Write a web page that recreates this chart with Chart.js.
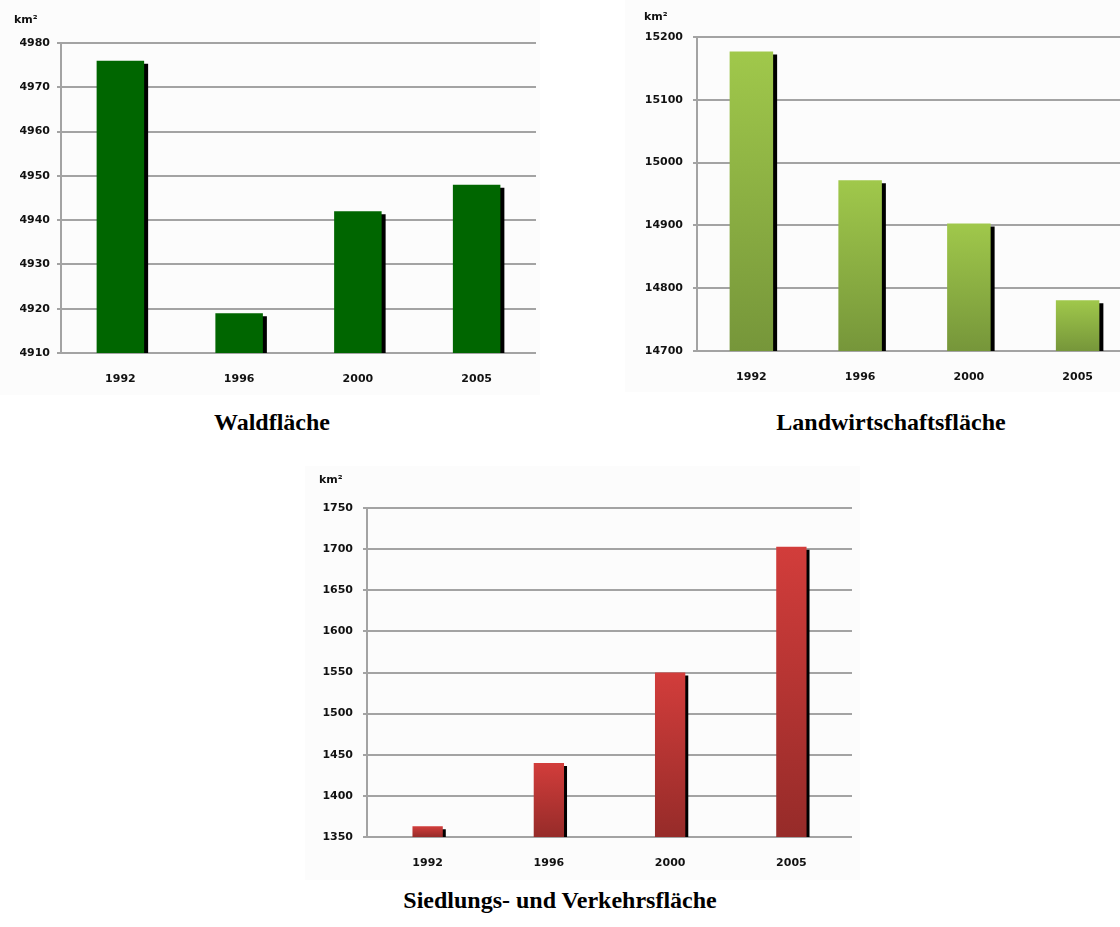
<!DOCTYPE html>
<html>
<head>
<meta charset="utf-8">
<script src="https://cdn.jsdelivr.net/npm/chart.js@4"></script>
<style>
  html, body { margin: 0; padding: 0; background: #fff; width: 1120px; height: 927px; overflow: hidden; position: relative; }
  canvas { position: absolute; background: #fcfcfc; }
  .unit { position: absolute; font: bold 11px "DejaVu Sans", sans-serif; color: #111; }
  .title { position: absolute; font: bold 24px "Liberation Serif", "Times New Roman", serif; color: #000; text-align: center; width: 500px; }
</style>
</head>
<body>
<canvas id="wald" width="540" height="395" style="left:0;top:0"></canvas>
<canvas id="land" width="515" height="392" style="left:625px;top:0"></canvas>
<canvas id="sied" width="555" height="414" style="left:305px;top:466px"></canvas>

<span class="unit" style="left:14px;top:13px">km²</span>
<span class="unit" style="left:644px;top:10px">km²</span>
<span class="unit" style="left:319px;top:473px">km²</span>

<div class="title" style="left:22px;top:409px">Waldfläche</div>
<div class="title" style="left:641px;top:409px">Landwirtschaftsfläche</div>
<div class="title" style="left:310px;top:887px">Siedlungs- und Verkehrsfläche</div>

<script>
// Jahre
const years = ['1992', '1996', '2000', '2005'];

// Werte in km²
const waldValues = [4976, 4919, 4942, 4948];
const landValues = [15177, 14972, 14903, 14781];
const siedValues = [1363, 1440, 1550, 1703];

// Achsenbeschriftungen (y)
const waldTicks = [4910, 4920, 4930, 4940, 4950, 4960, 4970, 4980];
const landTicks = [14700, 14800, 14900, 15000, 15100, 15200];
const siedTicks = [1350, 1400, 1450, 1500, 1550, 1600, 1650, 1700, 1750];

const gridColor = '#a3a3a3';

// Schatten rechts neben den Balken
const shadowPlugin = {
    id: 'barShadow',
    beforeDatasetsDraw(chart, args, opts) {
        const c = chart.ctx;
        c.save();
        c.shadowColor = '#000';
        c.shadowOffsetX = opts.dx || 4;
        c.shadowOffsetY = 3;
        c.shadowBlur = 0;
    },
    afterDatasetsDraw(chart) {
        chart.ctx.restore();
    }
};

// Verlauf von oben (hell) nach unten (dunkel) je Balken
function barGradient(top, bottom) {
    return function (ctx) {
        const chart = ctx.chart;
        const area = chart.chartArea;
        if (!area || ctx.type !== 'data') return top;
        const y = chart.scales.y.getPixelForValue(ctx.raw);
        const g = chart.ctx.createLinearGradient(0, y, 0, area.bottom);
        g.addColorStop(0, top);
        g.addColorStop(1, bottom);
        return g;
    };
}

function makeChart(id, values, ticks, color, o) {
    const ctx = document.getElementById(id).getContext('2d');
    return new Chart(ctx, {
        type: 'bar',
        data: {
            labels: years,
            datasets: [{
                data: values,
                backgroundColor: color,
                borderWidth: 0,
                barPercentage: o.barPct,
                categoryPercentage: 1
            }]
        },
        options: {
            responsive: false,
            devicePixelRatio: 1,
            animation: false,
            layout: { padding: { top: o.top, right: o.right, left: 0, bottom: 0 } },
            plugins: {
                legend: { display: false },
                tooltip: { enabled: false },
                barShadow: { dx: o.dx }
            },
            scales: {
                x: {
                    grid: { display: false, drawTicks: false },
                    border: { display: false },
                    ticks: {
                        padding: o.xPad,
                        color: '#111',
                        font: { family: 'DejaVu Sans', weight: 'bold', size: 11 }
                    },
                    afterFit: s => { s.height = o.xH; }
                },
                y: {
                    min: ticks[0],
                    max: ticks[ticks.length - 1],
                    grid: { color: gridColor, lineWidth: 2, tickLength: 4 },
                    border: { color: gridColor, width: 2 },
                    ticks: {
                        stepSize: ticks[1] - ticks[0],
                        padding: o.yPad,
                        color: '#111',
                        font: { family: 'DejaVu Sans', weight: 'bold', size: o.yFont },
                        callback: v => String(v)
                    },
                    afterFit: s => { s.width = o.yW; }
                }
            }
        },
        plugins: [shadowPlugin]
    });
}

makeChart('wald', waldValues, waldTicks, '#006600',
    { barPct: 0.4, top: 43, right: 4, xH: 42, xPad: 20, yW: 61, yPad: 7, yFont: 11, dx: 4 });

makeChart('land', landValues, landTicks, barGradient('#a0c84b', '#76963a'),
    { barPct: 0.4, top: 37, right: 8, xH: 41, xPad: 20, yW: 72, yPad: 10, yFont: 11, dx: 4 });

makeChart('sied', siedValues, siedTicks, barGradient('#d23d3b', '#962b29'),
    { barPct: 0.25, top: 42, right: 8, xH: 43, xPad: 20, yW: 62, yPad: 10, yFont: 11, dx: 3 });
</script>
</body>
</html>
